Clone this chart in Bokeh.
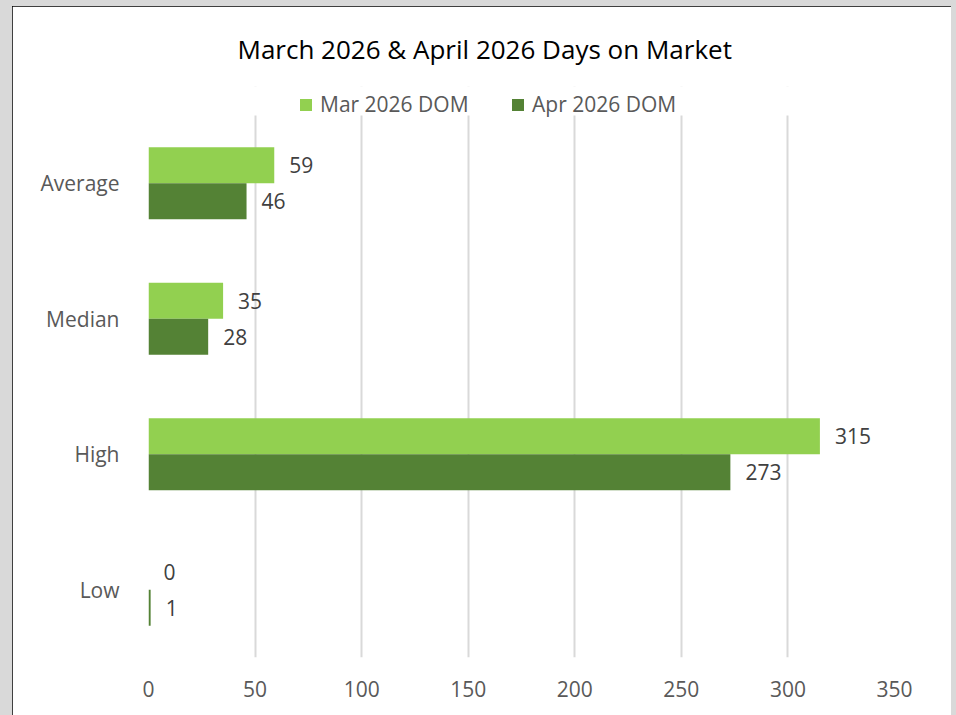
from bokeh.plotting import figure
from bokeh.models import (Range1d, FixedTicker, Legend, LegendItem,
                          ColumnDataSource, BoxAnnotation)
from bokeh.transform import dodge
from bokeh.core.properties import value
from bokeh.embed import file_html
from bokeh.resources import INLINE

# ---- data ----
categories = ["Low", "High", "Median", "Average"]   # bottom to top
mar_2026_dom = [0, 315, 35, 59]
apr_2026_dom = [1, 273, 28, 46]
series_names = ["Mar 2026 DOM", "Apr 2026 DOM"]
x_ticks = [0, 50, 100, 150, 200, 250, 300, 350]
title_text = "March 2026 & April 2026 Days on Market"

FONT = "Open Sans"
MAR_COLOR = "#92D050"
APR_COLOR = "#548235"

cat_pos = list(range(len(categories)))
src = ColumnDataSource(dict(
    pos=cat_pos,
    mar=mar_2026_dom,
    apr=apr_2026_dom,
    mar_lbl=[str(v) for v in mar_2026_dom],
    apr_lbl=[str(v) for v in apr_2026_dom],
))

# extra room at the top of the frame holds the legend
TOP_ROOM = 0.214
y_top = len(categories) - 0.5

p = figure(
    width=939, height=709,
    y_range=Range1d(-0.5, y_top + TOP_ROOM),
    x_range=Range1d(0, 350),
    output_backend="svg", toolbar_location=None,
    min_border_left=136, min_border_right=57,
    min_border_top=80, min_border_bottom=58,
)
p.styles = {"outline": "2px solid black", "outline-offset": "-2px",
            "margin-left": "12px", "margin-top": "6px",
            "background-color": "white"}
p.background_fill_color = "white"
p.border_fill_color = "white"
p.outline_line_color = None

BAR_H = 0.266
OFF = 0.133
r_mar = p.hbar(y=dodge("pos", OFF), right="mar", left=0, height=BAR_H,
               source=src, fill_color=MAR_COLOR, line_color=None)
r_apr = p.hbar(y=dodge("pos", -OFF), right="apr", left=0, height=BAR_H,
               source=src, fill_color=APR_COLOR, line_color=None)

for col, lbl, off in (("mar", "mar_lbl", OFF), ("apr", "apr_lbl", -OFF)):
    p.text(x=col, y=dodge("pos", off), text=lbl, source=src,
           x_offset=15, text_align="left", text_baseline="middle",
           text_font=value(FONT), text_font_size="21px", text_color="#404040")

# axes / grid
p.xaxis.ticker = FixedTicker(ticks=x_ticks)
p.xaxis.axis_line_color = None
p.xaxis.major_tick_line_color = None
p.xaxis.minor_tick_line_color = None
p.xaxis.major_label_text_font = FONT
p.xaxis.major_label_text_font_size = "21px"
p.xaxis.major_label_text_color = "#595959"
p.xaxis.major_label_standoff = 17

p.yaxis.ticker = FixedTicker(ticks=cat_pos)
p.yaxis.major_label_overrides = {i: c for i, c in zip(cat_pos, categories)}
p.yaxis.axis_line_color = None
p.yaxis.major_tick_line_color = None
p.yaxis.minor_tick_line_color = None
p.yaxis.major_label_text_font = FONT
p.yaxis.major_label_text_font_size = "21px"
p.yaxis.major_label_text_color = "#595959"
p.yaxis.major_label_standoff = 23

p.xgrid.grid_line_color = "#d9d9d9"
p.xgrid.grid_line_width = 2
p.ygrid.grid_line_color = None

# keep the grid out of the legend strip
p.add_layout(BoxAnnotation(bottom=y_top, fill_color="white", fill_alpha=1,
                           line_color=None))

# legend
legend = Legend(items=[LegendItem(label=series_names[0], renderers=[r_mar]),
                       LegendItem(label=series_names[1], renderers=[r_apr])],
                orientation="horizontal", location=(150, 539),
                glyph_width=15, glyph_height=15, label_standoff=7,
                label_width=190, spacing=0, padding=0, margin=0,
                label_text_font=FONT, label_text_font_size="21px",
                label_text_color="#595959",
                border_line_color=None, background_fill_alpha=0)
p.add_layout(legend, "center")

# title
p.title.text = title_text
p.title.align = "left"
p.title.offset = 89
p.title.standoff = 40
p.title.text_font = FONT
p.title.text_font_size = "26px"
p.title.text_font_style = "normal"
p.title.text_color = "#000000"

html = file_html(p, INLINE)
html = html.replace("</head>", "<style>html, body { background-color: #d9d9d9; }</style></head>", 1)
open("out.html", "w").write(html)
